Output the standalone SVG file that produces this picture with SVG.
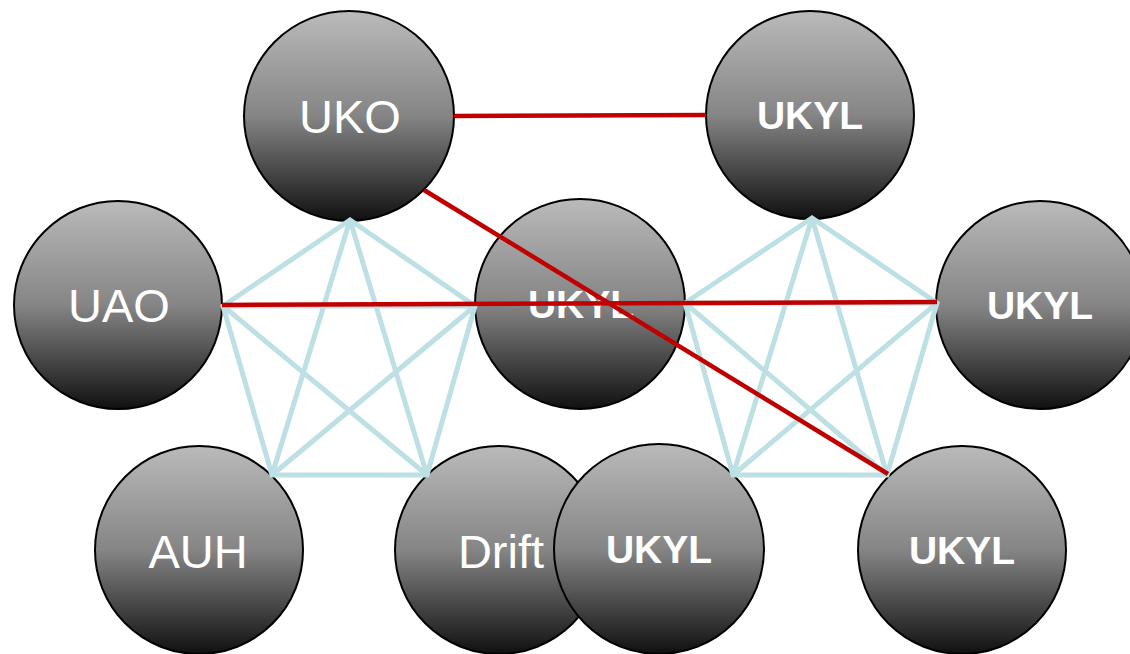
<svg xmlns="http://www.w3.org/2000/svg" width="1130" height="654" viewBox="0 0 1130 654">
<defs>
<linearGradient id="g" x1="0" y1="0" x2="0" y2="1">
<stop offset="0" stop-color="#bababa"/>
<stop offset="0.5" stop-color="#858585"/>
<stop offset="1" stop-color="#101010"/>
</linearGradient>
<style>
.n{fill:url(#g);stroke:#000;stroke-width:2}
.t{fill:#fff;font-family:"Liberation Sans",Arial,sans-serif;font-size:47px;text-anchor:middle}
.b{fill:#fff;font-family:"Liberation Sans",Arial,sans-serif;font-size:39px;font-weight:bold;text-anchor:middle}
.bl{stroke:#bce0e3;stroke-width:5;fill:none}
.rd{stroke:#c00000;stroke-width:4.5;fill:none}
</style>
</defs>
<rect width="1130" height="654" fill="#fff"/>
<g id="n-uko"><circle class="n" cx="349" cy="116" r="105"/><text class="t" x="350" y="133">UKO</text></g>
<g id="n-ukyl1"><circle class="n" cx="810" cy="115" r="104"/><text class="b" x="810" y="129">UKYL</text></g>
<g id="n-uao"><circle class="n" cx="118" cy="305" r="104"/><text class="t" x="119" y="322">UAO</text></g>
<g id="n-ukyl2"><circle class="n" cx="580" cy="304" r="105"/><text class="b" x="581" y="318">UKYL</text></g>
<g id="n-ukyl3"><circle class="n" cx="1040" cy="305" r="104"/><text class="b" x="1040" y="319">UKYL</text></g>
<g id="n-auh"><circle class="n" cx="199" cy="550" r="104"/><text class="t" x="198" y="568">AUH</text></g>
<g id="n-drift"><circle class="n" cx="499" cy="550" r="104"/><text class="t" x="501" y="568">Drift</text></g>
<g id="n-ukyl4"><circle class="n" cx="659" cy="549" r="105"/><text class="b" x="659" y="563">UKYL</text></g>
<g id="n-ukyl5"><circle class="n" cx="962" cy="550" r="104"/><text class="b" x="962" y="564">UKYL</text></g>
<g id="connectors">
<g class="bl">
<path d="M350 220L223 306L272 475L427 475L475 306Z"/>
<path d="M350 220L272 475M350 220L427 475M223 306L427 475M223 306L475 306M272 475L475 306"/>
<path d="M812 218L685 303L733 475L887 475L937 303Z"/>
<path d="M812 218L733 475M812 218L887 475M685 303L887 475M685 303L937 303M733 475L937 303"/>
</g>
<g class="rd">
<path d="M454 116L706 115"/>
<path d="M424 190L888 474"/>
<path d="M222 305L937 302"/>
</g>
</g>
</svg>
